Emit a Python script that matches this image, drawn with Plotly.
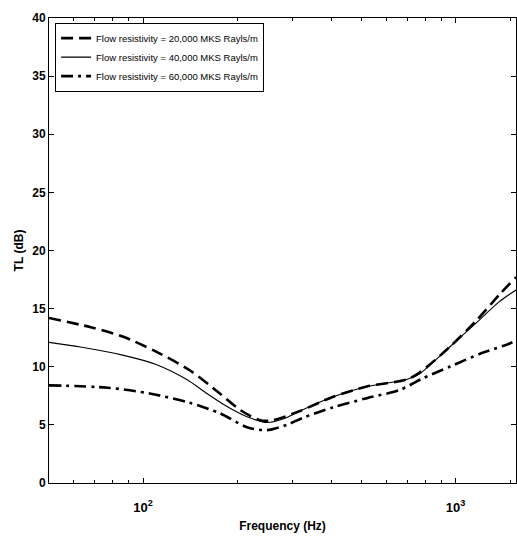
import numpy as np
import plotly.graph_objects as go

freq_20k = [50, 68, 86, 110, 141, 176, 204, 237, 260, 318, 404, 520, 697, 767, 957, 1167, 1380, 1560]
tl_20k = [14.2, 13.4, 12.6, 11.3, 9.7, 7.7, 6.3, 5.4, 5.4, 6.2, 7.4, 8.3, 8.9, 9.5, 11.7, 14.0, 16.2, 17.7]

freq_40k = [50, 63, 86, 110, 138, 160, 185, 215, 249, 280, 318, 404, 520, 697, 767, 957, 1167, 1380, 1560]
tl_40k = [12.1, 11.7, 11.0, 10.2, 8.9, 7.7, 6.6, 5.7, 5.2, 5.5, 6.2, 7.4, 8.3, 8.9, 9.4, 11.7, 13.8, 15.6, 16.6]

freq_60k = [50, 77, 105, 141, 176, 215, 249, 288, 324, 404, 520, 662, 785, 957, 1219, 1490, 1560]
tl_60k = [8.4, 8.2, 7.7, 6.9, 6.0, 4.8, 4.55, 5.0, 5.6, 6.5, 7.3, 8.0, 9.0, 10.0, 11.2, 12.0, 12.3]

names = ["Flow resistivity = 20,000 MKS Rayls/m",
         "Flow resistivity = 40,000 MKS Rayls/m",
         "Flow resistivity = 60,000 MKS Rayls/m"]

x_ticks = [100, 1000]
x_ticktext = ["10<sup>2</sup>", "10<sup>3</sup>"]
x_minor = [50, 60, 70, 80, 90, 200, 300, 400, 500, 600, 700, 800, 900, 1500]
y_ticks = [0, 5, 10, 15, 20, 25, 30, 35, 40]

fig = go.Figure()
fig.add_trace(go.Scatter(x=freq_20k, y=tl_20k, mode="lines", name=names[0],
                         line=dict(color="black", width=2.6, dash="12px,6px", shape="spline", smoothing=0.8)))
fig.add_trace(go.Scatter(x=freq_40k, y=tl_40k, mode="lines", name=names[1],
                         line=dict(color="black", width=1.1, shape="spline", smoothing=0.8)))
fig.add_trace(go.Scatter(x=freq_60k, y=tl_60k, mode="lines", name=names[2],
                         line=dict(color="black", width=2.6, dash="12px,5px,3px,5px", shape="spline", smoothing=0.8)))

font_main = "Liberation Sans, Arial"

fig.update_layout(
    width=517, height=539,
    margin=dict(l=49, r=1, t=18, b=56),
    paper_bgcolor="white", plot_bgcolor="white",
    font=dict(family=font_main, size=12, color="black"),
    showlegend=True,
    legend=dict(x=0.013, y=0.99, xanchor="left", yanchor="top",
                bgcolor="white", bordercolor="black", borderwidth=1,
                font=dict(family=font_main, size=9.5, color="black"),
                tracegroupgap=0, itemwidth=30),
    xaxis=dict(type="log", range=[np.log10(50), np.log10(1560)],
               title=dict(text="Frequency (Hz)", font=dict(size=12, weight="bold"), standoff=8),
               tickvals=x_ticks, ticktext=x_ticktext,
               ticks="inside", ticklen=5, tickcolor="black", ticklabelstandoff=12,
               minor=dict(ticks="inside", ticklen=3, tickcolor="black", tickvals=x_minor),
               showline=True, linecolor="black", linewidth=1, mirror="ticks",
               showgrid=False, zeroline=False, tickfont=dict(size=13, weight="bold")),
    yaxis=dict(range=[0, 40], tickvals=y_ticks,
               title=dict(text="TL (dB)", font=dict(size=12, weight="bold"), standoff=6),
               ticks="inside", ticklen=5, tickcolor="black",
               showline=True, linecolor="black", linewidth=1, mirror="ticks",
               showgrid=False, zeroline=False, tickfont=dict(size=12, weight="bold")),
)

fig.write_html("out.html")
